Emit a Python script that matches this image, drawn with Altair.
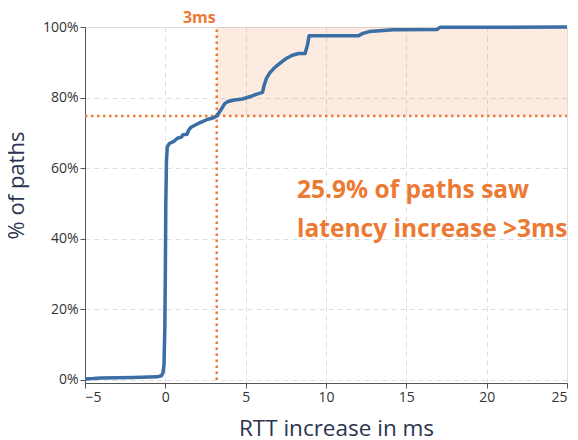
import altair as alt
import pandas as pd

# CDF of RTT increase
rtt = [-5, -4.5, -4.0, -2.0, -0.5, -0.25, -0.15, -0.08, -0.03, 0.0,
       0.03, 0.07, 0.12, 0.25, 0.5, 0.75, 1.0, 1.1, 1.35, 1.45,
       1.6, 1.9, 2.2, 2.6, 3.0, 3.2, 3.45, 3.7, 3.9, 4.3,
       4.8, 5.3, 5.7, 6.05, 6.15, 6.3, 6.5, 6.8, 7.2, 7.5,
       7.9, 8.3, 8.7, 8.85, 8.95, 12.0, 12.3, 12.7, 14.2, 16.9,
       17.1, 25]
pct = [0.3, 0.4, 0.6, 0.7, 0.9, 1.2, 2.0, 4.5, 15, 30,
       50, 62, 66, 67, 67.5, 68.5, 68.8, 69.5, 69.6, 70.8,
       71.6, 72.3, 73, 73.8, 74.3, 74.8, 76.5, 78.3, 78.9, 79.3,
       79.6, 80.3, 81, 81.5, 83.5, 85.5, 87, 88.5, 90, 91,
       92, 92.5, 92.5, 95, 97.5, 97.5, 98.2, 98.7, 99.2, 99.3,
       99.9, 100]

threshold_ms = [3.2]
threshold_pct = [74.8]
x_ticks = [-5, 0, 5, 10, 15, 20, 25]
y_ticks = [0, 20, 40, 60, 80, 100]
annot_lines = ["25.9% of paths saw", "latency increase >3ms"]
annot_y = [53.5, 42.5]
annot_x = [8.2, 8.2]

ORANGE = "#ec7a32"
BLUE = "#3b6ea5"
FONT = "Open Sans"

df = pd.DataFrame({"rtt": rtt, "pct": pct})

xscale = alt.Scale(domain=[-5, 25], nice=False, zero=False)
yscale = alt.Scale(domain=[-0.85, 100], nice=False, zero=False)

xaxis = alt.Axis(values=x_ticks, title="RTT increase in ms",
                 labelExpr="datum.value < 0 ? '\u2212' + abs(datum.value) : datum.value",
                 grid=True, gridDash=[5, 4], gridColor="#dddddd",
                 domainColor="#555555", tickColor="#555555", tickSize=5,
                 labelFont=FONT, labelFontSize=14, labelColor="#333333",
                 titleFont=FONT, titleFontSize=22.5, titleFontWeight="normal",
                 titleColor="#2b3550", titlePadding=13, titleX=251)
yaxis = alt.Axis(values=y_ticks, title="% of paths",
                 labelExpr="datum.value + '%'",
                 grid=True, gridDash=[5, 4], gridColor="#dddddd",
                 domainColor="#555555", tickColor="#555555", tickSize=5,
                 labelFont=FONT, labelFontSize=14, labelColor="#333333",
                 titleFont=FONT, titleFontSize=22, titleFontWeight="normal",
                 titleColor="#2b3550", titleX=-57, titleY=158,
                 titleAlign="center", titleBaseline="bottom")

shade_df = pd.DataFrame({"x": threshold_ms, "x2": [25], "y": threshold_pct, "y2": [100]})
shade = alt.Chart(shade_df).mark_rect(color=ORANGE, opacity=0.15).encode(
    x=alt.X("x:Q", scale=xscale, axis=xaxis),
    x2="x2:Q",
    y=alt.Y("y:Q", scale=yscale, axis=yaxis),
    y2="y2:Q",
)

vline = alt.Chart(pd.DataFrame({"x": threshold_ms, "y": [0], "y2": [100]})).mark_rule(
    color=ORANGE, strokeWidth=2.5, strokeDash=[2.5, 3.5]
).encode(x=alt.X("x:Q", scale=xscale), y=alt.Y("y:Q", scale=yscale), y2="y2:Q")

hline = alt.Chart(pd.DataFrame({"y": threshold_pct, "x": [-5], "x2": [25]})).mark_rule(
    color=ORANGE, strokeWidth=2.5, strokeDash=[2.5, 3.5]
).encode(y=alt.Y("y:Q", scale=yscale), x=alt.X("x:Q", scale=xscale), x2="x2:Q")

line = alt.Chart(df).mark_line(color=BLUE, strokeWidth=3.5, strokeJoin="round").encode(
    x=alt.X("rtt:Q", scale=xscale),
    y=alt.Y("pct:Q", scale=yscale),
)

label3 = alt.Chart(pd.DataFrame({"x": threshold_ms, "t": ["3ms"]})).mark_text(
    color=ORANGE, font=FONT, fontSize=16, fontWeight="bold",
    align="right", baseline="middle", dx=-1, y=-9
).encode(x=alt.X("x:Q", scale=xscale), text="t:N")

annot = alt.Chart(pd.DataFrame({"x": annot_x, "y": annot_y, "t": annot_lines})).mark_text(
    color=ORANGE, font=FONT, fontSize=24.5, fontWeight="bold",
    align="left", baseline="middle"
).encode(x=alt.X("x:Q", scale=xscale), y=alt.Y("y:Q", scale=yscale), text="t:N")

chart = alt.layer(shade, vline, hline, line, label3, annot).properties(
    width=482, height=356,
    autosize=alt.AutoSizeParams(type="none"),
    padding={"left": 77, "top": 19, "right": 3, "bottom": 56},
).configure_view(stroke=None).configure(background="white")

chart.save("out.html", embed_options={"renderer": "svg", "actions": False})
